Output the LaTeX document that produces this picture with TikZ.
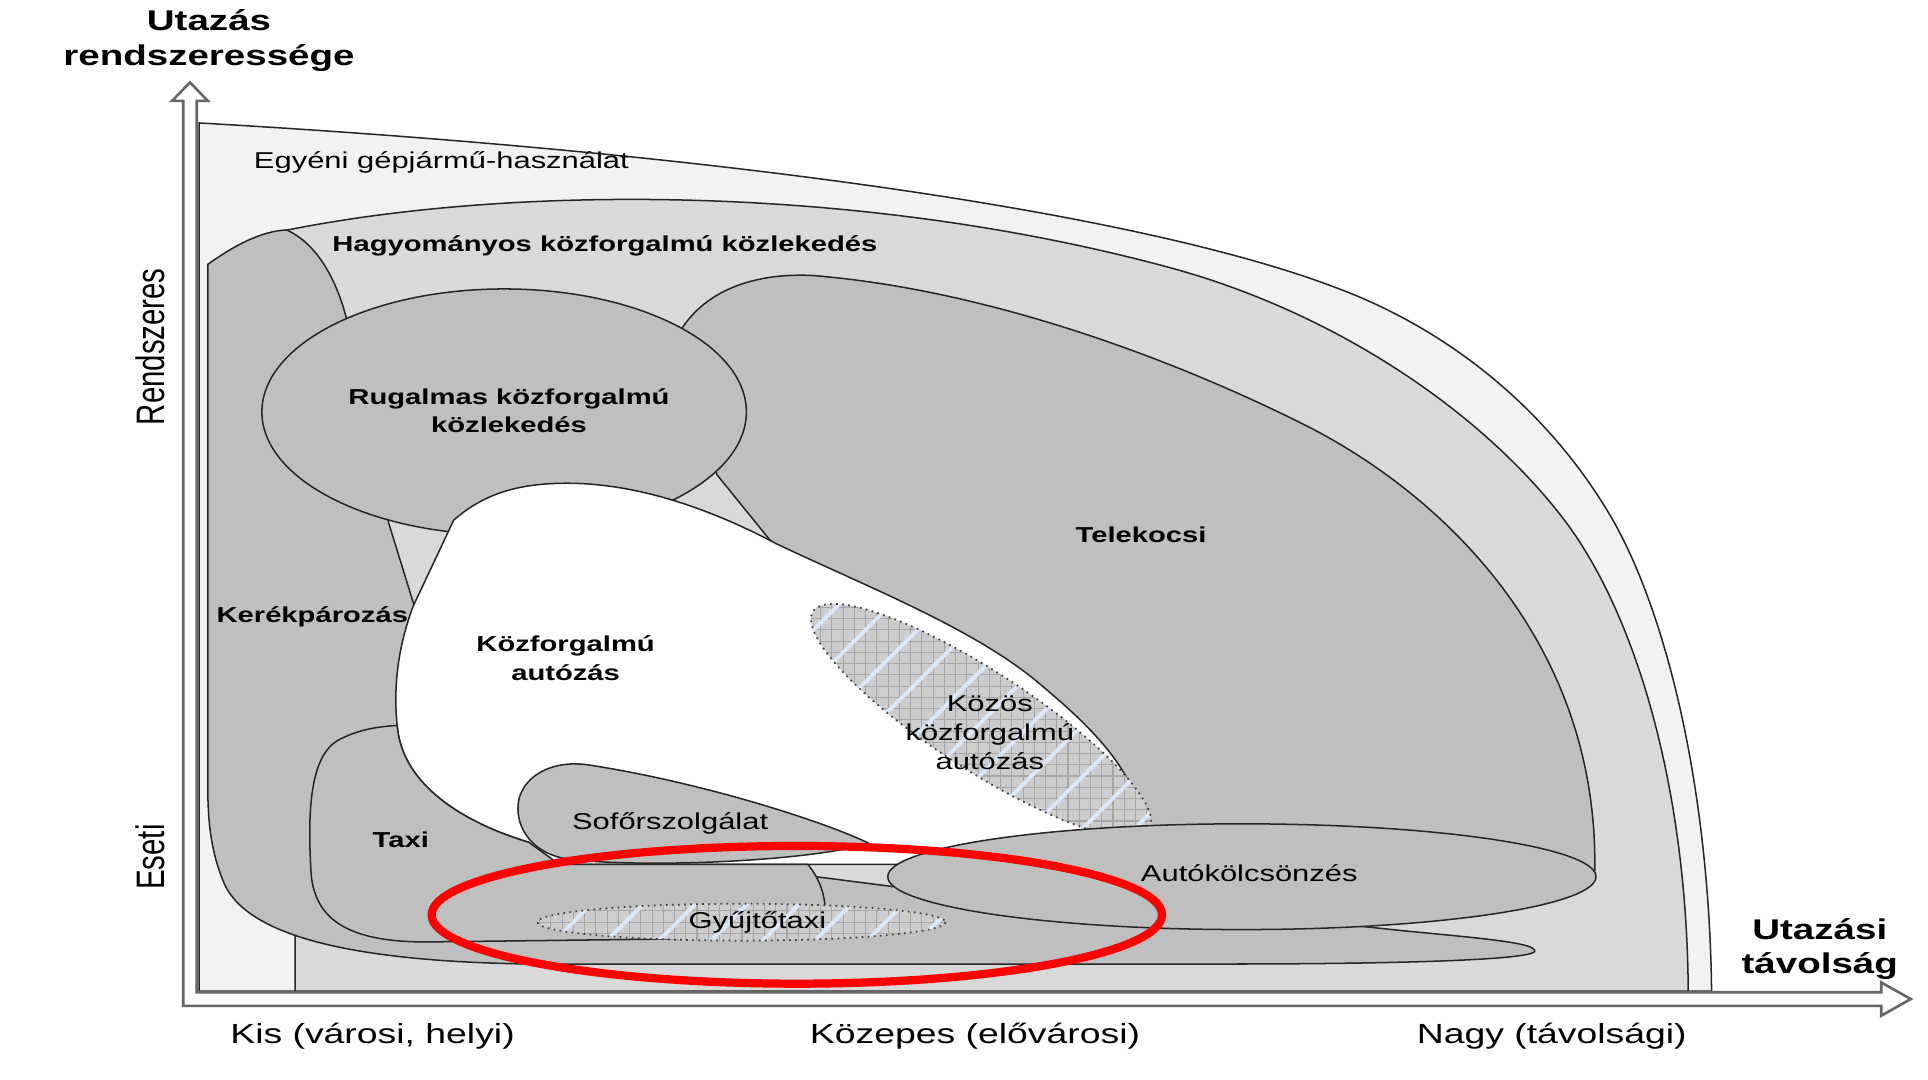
\documentclass[tikz,border=0pt]{standalone}
\usepackage{fontspec}
\setmainfont{Liberation Sans}[FakeStretch=1.35]
\newfontfamily\plainsans{Liberation Sans}
\usepackage{graphicx}
\usepackage{tikz}
\usetikzlibrary{patterns.meta}
\definecolor{egyenigray}{HTML}{F2F2F2}
\definecolor{hagyomgray}{HTML}{D9D9D9}
\definecolor{zonegray}{HTML}{BFBFBF}
\definecolor{hatchbg}{HTML}{CDCDCD}
\definecolor{stripeblue}{HTML}{DCE8F8}

\begin{document}
\begin{tikzpicture}[
x=0.01cm, y=-0.01cm,
outline/.style={draw=black!85, line width=0.35pt},
zone/.style={outline, fill=zonegray},
hatchzone/.style={fill=hatchbg,
  postaction={pattern={Hatch[distance=2.6pt,line width=0.25pt]}, pattern color=black!35},
  postaction={pattern={Lines[angle=45,distance=8.5pt,line width=0.9pt]}, pattern color=stripeblue},
  postaction={draw=black!75, densely dotted, line width=0.4pt}},
lbl/.style={font=\fontsize{5.3}{6.7}\selectfont, align=center, inner sep=0pt},
blbl/.style={font=\fontsize{5}{6.7}\selectfont\bfseries, align=center, inner sep=0pt},
axlbl/.style={font=\fontsize{6.4}{8}\selectfont, inner sep=0pt},
axtitle/.style={font=\fontsize{6.6}{8}\selectfont\bfseries, align=center, inner sep=0pt}
]
    \useasboundingbox (0,0) rectangle (1568,878);

    % Draw regions
    \path[fill=egyenigray, outline] (162,806) -- (162,100)
        .. controls (600,125) and (930,175) .. (1084,233)
        .. controls (1180,268) and (1260,335) .. (1310,420)
        .. controls (1355,497) and (1390,640) .. (1392,806) -- cycle;
    \path[fill=hagyomgray, outline] (240,806) -- (240,240) -- (225,200) -- (234,187)
        .. controls (420,150) and (700,150) .. (949,217)
        .. controls (1080,252) and (1200,330) .. (1270,420)
        .. controls (1330,497) and (1372,640) .. (1373,806) -- cycle;
    \path[zone] (169,215) .. controls (190,200) and (212,188) .. (233,187)
        .. controls (258,198) and (274,228) .. (282,260) -- (316,425) -- (337,493)
        -- (400,650) -- (640,710) -- (726,721)
        .. controls (900,735) and (1060,748) .. (1132,756)
        .. controls (1190,762) and (1252,766) .. (1248,774)
        .. controls (1240,782) and (1100,784) .. (1000,784) -- (430,784)
        .. controls (300,782) and (205,765) .. (183,720)
        .. controls (172,695) and (169,670) .. (169,640) -- cycle;
    \path[zone] (583,386) -- (554,268) .. controls (575,235) and (615,222) .. (660,224)
        .. controls (800,235) and (950,290) .. (1060,345)
        .. controls (1170,400) and (1300,520) .. (1297,708)
        -- (1270,712) -- (930,700) -- (930,668) -- (626,439) -- cycle;
    \path[zone] (410,335) ellipse [x radius=197, y radius=100];
    \path[fill=white, outline] (369,423) .. controls (395,400) and (425,393) .. (461,393)
        .. controls (520,393) and (580,415) .. (631,442)
        .. controls (700,475) and (790,510) .. (843,554)
        .. controls (880,585) and (920,620) .. (930,668)
        -- (930,703) -- (440,703) -- (430,685)
        .. controls (380,670) and (327,640) .. (323,590)
        .. controls (320,560) and (323,528) .. (336,493) -- cycle;
    \path[hatchzone] plot[domain=0:360, samples=90, variable=\t]
        ({798+163*cos(\t)*cos(33)-40*sin(\t)*sin(33)},
         {586+163*cos(\t)*sin(33)+40*sin(\t)*cos(33)}) -- cycle;
    \path[zone] (323,590) .. controls (327,640) and (380,670) .. (430,685)
        -- (455,703) -- (657,703) .. controls (667,715) and (672,730) .. (671,745)
        .. controls (670,758) and (640,762) .. (600,763) -- (352,766)
        .. controls (290,767) and (256,752) .. (253,710)
        .. controls (250,660) and (252,615) .. (275,602)
        .. controls (290,594) and (305,591) .. (323,590) -- cycle;
    \path[zone] (707,686) .. controls (650,702) and (510,706) .. (458,698)
        .. controls (430,692) and (418,670) .. (422,650)
        .. controls (427,630) and (450,618) .. (478,622)
        .. controls (570,636) and (670,668) .. (707,686) -- cycle;
    \path[zone] (1010,713) ellipse [x radius=288, y radius=43];
    \path[hatchzone] (603,750) ellipse [x radius=166, y radius=15];

    % Draw axes
    \path[fill=white, draw=black!60, line width=0.6pt] (149,818) -- (149,82) -- (140,82)
        -- (154.5,67) -- (169,82) -- (160,82) -- (160,807) -- (1530,807) -- (1530,799)
        -- (1554,812.5) -- (1530,826) -- (1530,818) -- cycle;

    % Labels
    \node[axtitle] (utazas) at (170,33) {Utazás\\rendszeressége};
    \node[axtitle] (tavolsag) at (1480,772) {Utazási\\távolság};
    \node[inner sep=0pt] (rendszeres) at (122,282)
        {\scalebox{1.35}[1]{\rotatebox{90}{\plainsans\fontsize{6.8}{8}\selectfont Rendszeres}}};
    \node[inner sep=0pt] (eseti) at (122,697)
        {\scalebox{1.35}[1]{\rotatebox{90}{\plainsans\fontsize{6.8}{8}\selectfont Eseti}}};
    \node[axlbl] (kis) at (303,843) {Kis (városi, helyi)};
    \node[axlbl] (kozepes) at (793,843) {Közepes (elővárosi)};
    \node[axlbl] (nagy) at (1262,843) {Nagy (távolsági)};

    \node[lbl] (egyeni) at (359,132) {Egyéni gépjármű-használat};
    \node[blbl] (hagyomanyos) at (492,200) {Hagyományos közforgalmú közlekedés};
    \node[blbl] (rugalmas) at (414,334) {Rugalmas közforgalmú\\közlekedés};
    \node[blbl] (telekocsi) at (928,435) {Telekocsi};
    \node[blbl] (kerekpar) at (254,502) {Kerékpározás};
    \node[blbl] (kozauto) at (460,535) {Közforgalmú\\autózás};
    \node[lbl] (kozos) at (805,596) {Közös\\közforgalmú\\autózás};
    \node[blbl] (taxi) at (326,683) {Taxi};
    \node[lbl] (sofor) at (545,670) {Sofőrszolgálat};
    \node[lbl] (autokolcson) at (1016,710) {Autókölcsönzés};
    \node[lbl] (gyujto) at (616,750) {Gyűjtőtaxi};

    % Highlight
    \draw[red, line width=1.9pt] (648,744) ellipse [x radius=297, y radius=56];
\end{tikzpicture}
\end{document}
